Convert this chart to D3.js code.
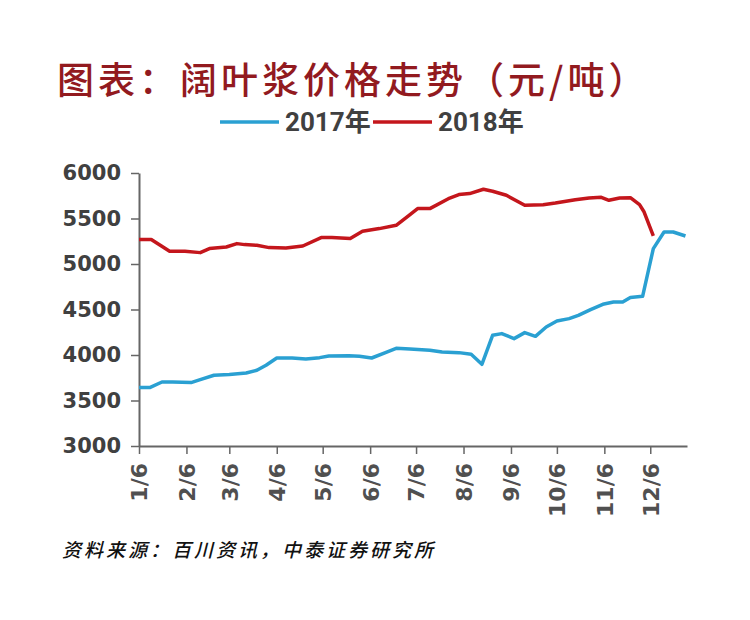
<!DOCTYPE html>
<html>
<head>
<meta charset="utf-8">
<script src="https://cdn.jsdelivr.net/npm/d3@7"></script>
<style>
  body { margin: 0; background: #fff; }
</style>
</head>
<body>
<div id="chart"></div>
<script>
// 2018 weekly prices (month-day, yuan/ton)
const dates2018 = ["01-06","01-14","01-26","02-05","02-15","02-21","03-04","03-11","03-16","03-24",
  "04-01","04-12","04-23","05-05","05-12","05-24","06-01","06-12","06-23","07-01","07-07","07-15",
  "07-28","08-03","08-10","08-19","08-25","09-03","09-15","09-27","10-05","10-18","10-27","11-04",
  "11-09","11-16","11-23","11-29","12-02","12-08"];
const values2018 = [5270,5270,5140,5140,5125,5170,5187,5224,5213,5205,
  5180,5176,5198,5290,5290,5279,5360,5389,5425,5530,5609,5609,
  5725,5763,5774,5821,5799,5755,5645,5652,5670,5707,5725,5733,
  5700,5725,5729,5652,5571,5308];

// 2017 weekly prices
const dates2017 = ["01-06","01-13","01-21","01-28","02-09","02-15","02-24","03-06","03-17","03-24",
  "03-30","04-06","04-16","04-25","05-04","05-10","05-23","05-30","06-07","06-16","06-23","07-02",
  "07-15","07-23","08-03","08-11","08-18","08-25","08-31","09-08","09-15","09-22","09-29","10-06",
  "10-14","10-20","10-28","11-05","11-12","11-18","11-23","12-01","12-08","12-15","12-21","12-29"];
const values2017 = [3642,3642,3703,3703,3697,3730,3777,3785,3802,3832,
  3887,3967,3967,3956,3971,3989,3993,3986,3967,4026,4074,4065,
  4052,4033,4026,4008,3898,4216,4235,4180,4246,4205,4308,4374,
  4400,4436,4499,4557,4582,4582,4631,4645,5169,5352,5352,5308];

const xTickLabels = ["1/6","2/6","3/6","4/6","5/6","6/6","7/6","8/6","9/6","10/6","11/6","12/6"];
const yTicks = [3000, 3500, 4000, 4500, 5000, 5500, 6000];
const seriesNames = ["2017年", "2018年"];
const seriesColors = ["#2aa0d2", "#c4161c"];

const width = 750, height = 620;
const plot = {left: 139, right: 687, top: 173, bottom: 446};

// all dates are placed on one reference year so both series share the axis
const parseMD = s => { const [m, d] = s.split("-").map(Number); return new Date(2017, m - 1, d); };
const parseTick = s => { const [m, d] = s.split("/").map(Number); return new Date(2017, m - 1, d); };

const svg = d3.select("#chart").append("svg")
  .attr("width", width)
  .attr("height", height);

const x = d3.scaleTime()
  .domain([new Date(2017, 0, 6), new Date(2017, 11, 30)])
  .range([plot.left, plot.right]);

const y = d3.scaleLinear()
  .domain([3000, 6000])
  .range([plot.bottom, plot.top]);

// title
svg.append("text")
  .attr("x", 57)
  .attr("y", 94)
  .attr("font-family", "'Noto Sans CJK SC', sans-serif")
  .attr("font-weight", 500)
  .attr("font-size", 37)
  .attr("letter-spacing", 4)
  .attr("fill", "#921a1f")
  .text("图表：阔叶浆价格走势（元/吨）");

// legend
const legendItems = [
  {name: seriesNames[0], color: seriesColors[0], x: 220},
  {name: seriesNames[1], color: seriesColors[1], x: 373}
];
const legend = svg.append("g");
legend.selectAll("line")
  .data(legendItems)
  .enter()
  .append("line")
  .attr("x1", d => d.x)
  .attr("x2", d => d.x + 59)
  .attr("y1", 122)
  .attr("y2", 122)
  .attr("stroke", d => d.color)
  .attr("stroke-width", 3.5);
legend.selectAll("text")
  .data(legendItems)
  .enter()
  .append("text")
  .attr("x", d => d.x + 65)
  .attr("y", 131)
  .attr("font-family", "Roboto, 'Noto Sans CJK SC', sans-serif")
  .attr("font-weight", 700)
  .attr("font-size", 26)
  .attr("fill", "#404040")
  .text(d => d.name);

// axes
const yAxis = svg.append("g")
  .attr("transform", `translate(${plot.left},0)`)
  .call(d3.axisLeft(y).tickValues(yTicks).tickFormat(d3.format("d"))
    .tickSize(8).tickSizeOuter(0).tickPadding(10));
yAxis.selectAll("text")
  .attr("font-family", "'DejaVu Sans', sans-serif")
  .attr("font-weight", 700)
  .attr("font-size", 21)
  .attr("fill", "#404040");

const xAxis = svg.append("g")
  .attr("transform", `translate(0,${plot.bottom})`)
  .call(d3.axisBottom(x)
    .tickValues(xTickLabels.map(parseTick))
    .tickFormat((d, i) => xTickLabels[i])
    .tickSize(8)
    .tickSizeOuter(0));
xAxis.selectAll("text")
  .attr("transform", "rotate(-90)")
  .attr("text-anchor", "end")
  .attr("x", -17)
  .attr("y", 0)
  .attr("dy", "0.36em")
  .attr("font-family", "'DejaVu Sans', sans-serif")
  .attr("font-weight", 700)
  .attr("font-size", 22)
  .attr("fill", "#505050");

svg.selectAll(".domain").attr("stroke", "#666").attr("stroke-width", 2);
svg.selectAll(".tick line").attr("stroke", "#666").attr("stroke-width", 1.5);

// lines
const line = d3.line()
  .x(d => x(d.date))
  .y(d => y(d.value));

const series = [
  {color: seriesColors[0], data: dates2017.map((d, i) => ({date: parseMD(d), value: values2017[i]}))},
  {color: seriesColors[1], data: dates2018.map((d, i) => ({date: parseMD(d), value: values2018[i]}))}
];

svg.selectAll(".series")
  .data(series)
  .enter()
  .append("path")
  .attr("class", "series")
  .attr("d", d => line(d.data))
  .attr("fill", "none")
  .attr("stroke", d => d.color)
  .attr("stroke-width", 3.5)
  .attr("stroke-linejoin", "round");

// source note
svg.append("text")
  .attr("x", 62)
  .attr("y", 557)
  .attr("font-family", "'Noto Sans CJK SC', sans-serif")
  .attr("font-style", "italic")
  .attr("font-weight", 500)
  .attr("font-size", 19)
  .attr("letter-spacing", 3)
  .attr("fill", "#111")
  .text("资料来源：百川资讯，中泰证券研究所");
</script>
</body>
</html>
